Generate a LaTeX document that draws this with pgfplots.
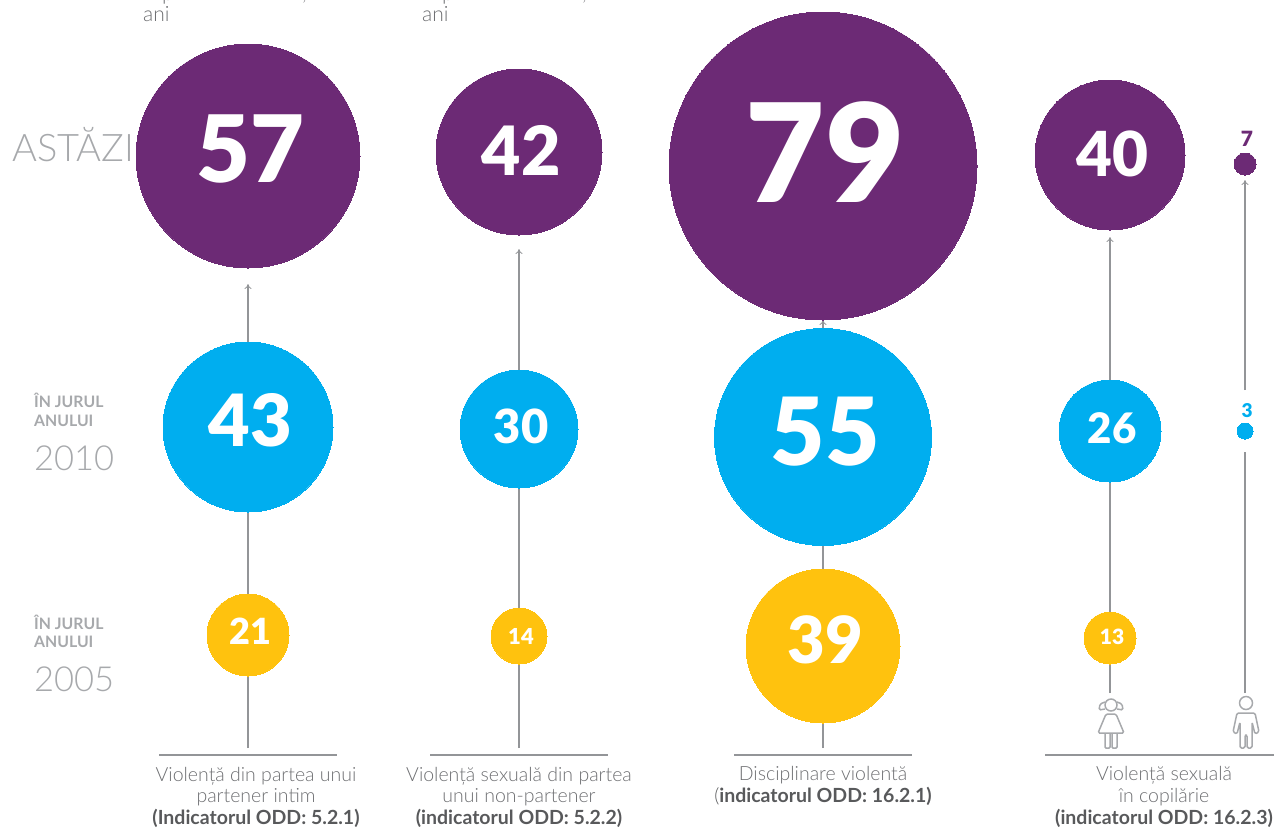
\documentclass[border=0pt]{standalone}
\usepackage{pgfplots}
\usepackage{fontspec}
\pgfplotsset{compat=1.18}
\usetikzlibrary{arrows.meta}
\setmainfont{Lato}
\newfontfamily\lightf{Lato Light}
\newfontfamily\blackf{Lato Black}
\definecolor{cP}{HTML}{6C2A75}
\definecolor{cB}{HTML}{00AEEF}
\definecolor{cY}{HTML}{FFC20E}
\definecolor{cL}{HTML}{939598}
\definecolor{cI}{HTML}{A7A9AC}
\definecolor{cT}{HTML}{6D6E71}
\definecolor{cD}{HTML}{58595B}
\pgfplotsset{
  % #1 fill, #2 radius, #3 number size, #4 number shift up, #5 number colour
  bub/.style n args={5}{
    only marks, mark=*, mark size=#2pt,
    mark options={draw=#1, fill=#1, line width=0pt},
    point meta=explicit,
    /pgf/number format/assume math mode=true,
    nodes near coords={\fontsize{#3pt}{#3pt}\selectfont\blackf\pgfmathprintnumber{\pgfplotspointmeta}},
    every node near coord/.append style={anchor=center, inner sep=0pt, text=#5, yshift=#4pt, xshift=2pt},
  },
  conn/.style={cL, line width=1.4pt, no marks},
  arr/.style={conn, -{To[length=5pt,width=7pt,line width=0.8pt]}},
  base/.style={cL, line width=1.2pt, no marks},
}
\tikzset{
  capt/.style={anchor=base, inner sep=0, text=cT, font=\lightf\fontsize{19.5pt}{19.5pt}\selectfont},
  captb/.style={anchor=base, inner sep=0, text=cD, font=\bfseries\fontsize{19.5pt}{19.5pt}\selectfont},
  hd/.style={anchor=base west, inner sep=0, text=cT, font=\lightf\fontsize{21pt}{21pt}\selectfont},
  sm/.style={anchor=base west, inner sep=0, text=cI, font=\bfseries\fontsize{15.8pt}{15.8pt}\selectfont},
  yr/.style={anchor=base west, inner sep=0, text=cI, font=\lightf\fontsize{34.5pt}{34.5pt}\selectfont},
}
\begin{document}
\begin{tikzpicture}
\path[use as bounding box, clip] (0,0) rectangle (1274pt,828pt);
\begin{axis}[
  at={(0,0)}, anchor=south west,
  width=1274pt, height=828pt, scale only axis,
  xmin=0, xmax=1274, ymin=0, ymax=828, y dir=reverse,
  hide axis, clip=false,
]
% connectors
\addplot[arr] coordinates {(248,748) (248,284)};
\addplot[arr] coordinates {(519,748) (519,249)};
\addplot[arr] coordinates {(823,748) (823,320)};
\addplot[arr] coordinates {(1110,693) (1110,237)};
\addplot[arr] coordinates {(1245,390) (1245,180)};
\addplot[conn] coordinates {(1245,693) (1245,452)};
% baselines
\addplot[base] coordinates {(159,755) (337,755)};
\addplot[base] coordinates {(430,755) (608,755)};
\addplot[base] coordinates {(734,755) (912,755)};
\addplot[base] coordinates {(1045,755) (1274,755)};
% around 2005
\addplot[bub={cY}{41}{36}{4}{white}] coordinates {(248,635) [21]};
\addplot[bub={cY}{28}{22}{0}{white}] coordinates {(519,636) [14]};
\addplot[bub={cY}{77}{65}{6}{white}] coordinates {(823,646) [39]};
\addplot[bub={cY}{26}{21}{1}{white}] coordinates {(1110,638) [13]};
% around 2010
\addplot[bub={cB}{85}{72}{7}{white}] coordinates {(248,427) [43]};
\addplot[bub={cB}{59}{47}{3}{white}] coordinates {(519,429) [30]};
\addplot[bub={cB}{108.5}{94}{5}{white}] coordinates {(823,437) [55]};
\addplot[bub={cB}{51}{42}{3}{white}] coordinates {(1110,431) [26]};
\addplot[bub={cB}{8}{19}{20}{cB}] coordinates {(1245,431) [3]};
% today
\addplot[bub={cP}{112}{93}{7}{white}] coordinates {(248,156) [57]};
\addplot[bub={cP}{83}{68}{2}{white}] coordinates {(519,152) [42]};
\addplot[bub={cP}{154}{137}{14}{white}] coordinates {(823,166) [79]};
\addplot[bub={cP}{75}{62}{1}{white}] coordinates {(1110,155) [40]};
\addplot[bub={cP}{11}{21}{25}{cP}] coordinates {(1245,164) [7]};

% cut-off header text
\node[hd] at (143,21) {ani};
\node[hd] at (422,21) {ani};
\node[hd] at (162,0) {p};
\node[hd] at (302,0) {,};
\node[hd] at (442,0) {p};
\node[hd] at (582,0) {,};

% period labels
\node[anchor=base west, inner sep=0, text=cI, font=\lightf\fontsize{38pt}{38pt}\selectfont] at (12,161) {ASTĂZI};
\node[sm] at (34,407) {ÎN JURUL};
\node[sm] at (34,426) {ANULUI};
\node[yr] at (34,470) {2010};
\node[sm] at (34,629) {ÎN JURUL};
\node[sm] at (34,647) {ANULUI};
\node[yr] at (34,691) {2005};

% captions
\node[capt] at (256,781) {Violență din partea unui};
\node[capt] at (256,802) {partener intim};
\node[captb] at (256,824) {(Indicatorul ODD: 5.2.1)};
\node[capt] at (519,781) {Violență sexuală din partea};
\node[capt] at (519,802) {unui non-partener};
\node[captb] at (519,824) {(indicatorul ODD: 5.2.2)};
\node[capt] at (823,780) {Disciplinare violentă};
\node[anchor=base, inner sep=0, text=cD, font=\fontsize{19.5pt}{19.5pt}\selectfont] at (823,802) {{\lightf (}\textbf{indicatorul ODD: 16.2.1)}};
\node[capt] at (1164,780) {Violență sexuală};
\node[capt] at (1164,802) {în copilărie};
\node[captb] at (1164,824) {(indicatorul ODD: 16.2.3)};

% boy icon
\draw[cI, line width=1.5pt] (1246,703) circle[radius=6.5];
\draw[cI, line width=1.5pt, rounded corners=1.5pt, line join=round]
  (1237,713) -- (1233,732) -- (1237,734) -- (1240,722) -- (1240,748) -- (1245,748) -- (1245,735)
  -- (1247,735) -- (1247,748) -- (1252,748) -- (1252,722) -- (1255,734) -- (1259,732) -- (1255,713) -- cycle;
% girl icon
\draw[cI, line width=1.5pt] (1111,705) circle[radius=6];
\draw[cI, line width=1.5pt, rounded corners=1.5pt]
  (1105,702) -- (1100,704) -- (1099,710) -- (1105,709);
\draw[cI, line width=1.5pt, rounded corners=1.5pt]
  (1117,702) -- (1122,704) -- (1123,710) -- (1117,709);
\draw[cI, line width=1.5pt, rounded corners=1.5pt]
  (1106,714) -- (1116,714) -- (1124,733) -- (1098,733) -- cycle;
\draw[cI, line width=1.5pt, rounded corners=1pt]
  (1105,733) -- (1105,748) -- (1110,748) -- (1110,733);
\draw[cI, line width=1.5pt, rounded corners=1pt]
  (1112,733) -- (1112,748) -- (1117,748) -- (1117,733);
\end{axis}
\end{tikzpicture}
\end{document}
